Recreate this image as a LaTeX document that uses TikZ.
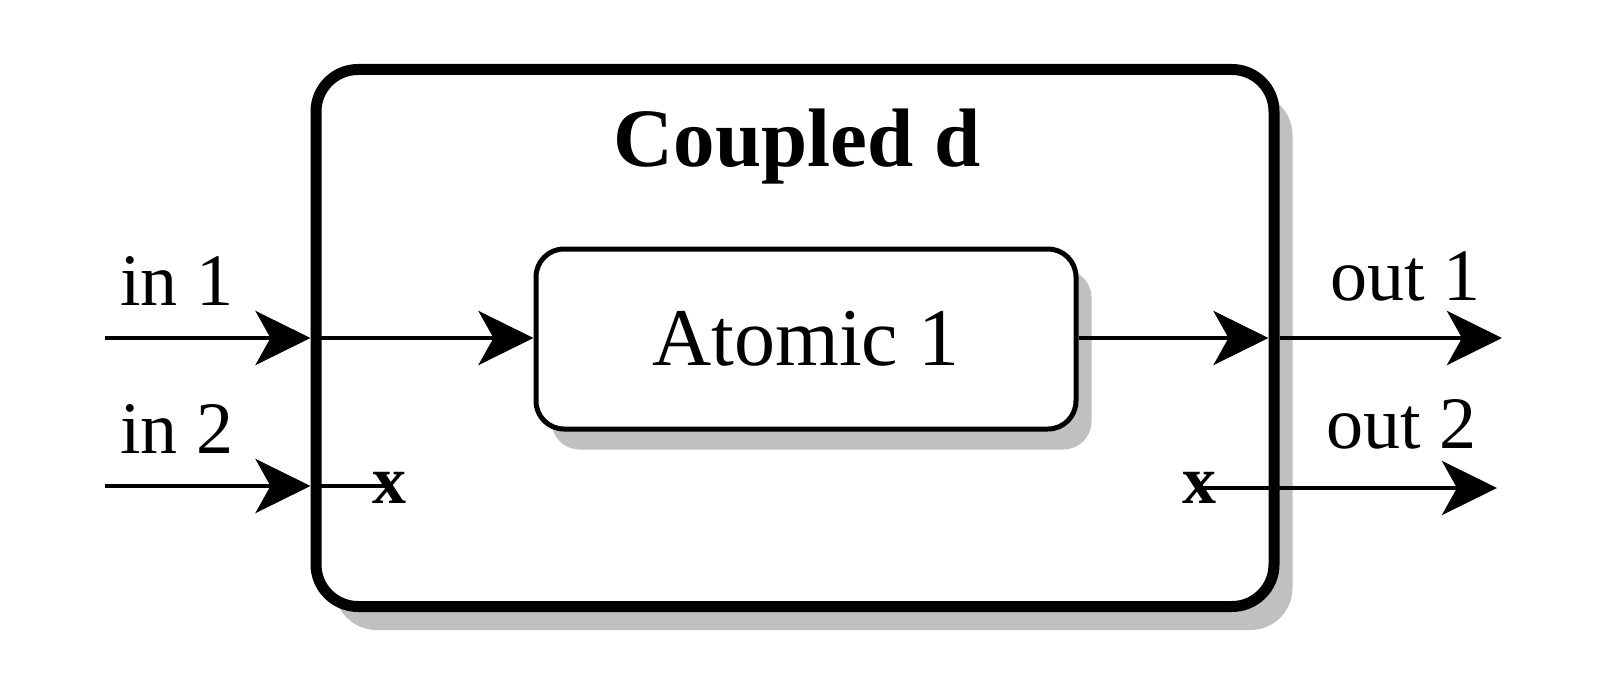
\documentclass[tikz,border=0pt]{standalone}
\usepackage{fontspec}
\setmainfont{Liberation Serif}
\usepackage{tikz}
\usetikzlibrary{arrows.meta,positioning,calc,shadows}
\definecolor{shadowgray}{HTML}{C0C0C0}
\tikzset{
  coupledbox/.style={draw=black,line width=11pt,rounded corners=42pt,fill=white,minimum width=958pt,minimum height=537pt,inner sep=0pt,
    drop shadow={shadow xshift=18.5pt,shadow yshift=-23.5pt,fill=shadowgray,opacity=1}},
  atomicbox/.style={draw=black,line width=5pt,rounded corners=28pt,fill=white,minimum width=540pt,minimum height=180pt,inner sep=0pt,font=\fontsize{82}{90}\selectfont,
    drop shadow={shadow xshift=15.5pt,shadow yshift=-20.5pt,fill=shadowgray,opacity=1}},
  titlelabel/.style={inner sep=0pt,font=\bfseries\fontsize{83}{90}\selectfont},
  portlabel/.style={inner sep=0pt,font=\fontsize{74}{80}\selectfont},
  portmark/.style={inner sep=0pt,font=\bfseries\fontsize{68}{75}\selectfont},
  portflow/.style={-{Stealth[length=55pt,width=54pt,inset=15pt]},line width=4.5pt},
  portline/.style={line width=4.5pt}
}
\begin{document}
\begin{tikzpicture}[x=1pt,y=-1pt]
  \useasboundingbox (0,0) rectangle (1614,690);
  % boxes
  \node[coupledbox] (coupled) at (795,338) {};
  \node[atomicbox] (atomic) at (806,339) {Atomic 1};
  \node[titlelabel,anchor=base] (title) at (797,167) {Coupled d};
  % ports
  \coordinate (in1tail) at (105,338);
  \coordinate (in2tail) at (105,486);
  \coordinate (out1head) at (1502,338);
  \coordinate (out2head) at (1497,488);
  \node[portlabel,anchor=base west] (in1) at (120,305) {in 1};
  \node[portlabel,anchor=base west] (in2) at (120,453) {in 2};
  \node[portlabel,anchor=base west] (out1) at (1330,300) {out 1};
  \node[portlabel,anchor=base west] (out2) at (1326,448) {out 2};
  \node[portmark,anchor=base west] (xin) at (372,503) {x};
  \node[portmark,anchor=base west] (xout) at (1182,503) {x};
  \draw[portflow] (in1tail) -- (in1tail -| coupled.west);
  \draw[portflow] (in2tail) -- (in2tail -| coupled.west);
  \draw[portflow] (coupled.west |- in1tail) -- (atomic.west |- in1tail);
  \draw[portflow,shorten >=11pt] (atomic.east |- in1tail) -- (coupled.east |- in1tail);
  \draw[portflow] (coupled.east |- out1head) -- (out1head);
  \draw[portline] (coupled.west |- in2tail) -- (xin.center |- in2tail);
  \draw[portflow] (xout.center |- out2head) -- (out2head);
\end{tikzpicture}
\end{document}
